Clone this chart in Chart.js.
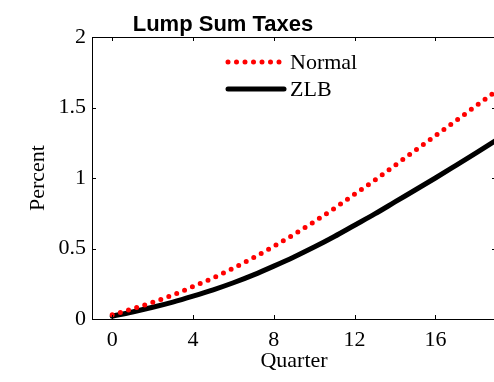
<!DOCTYPE html>
<html>
<head>
<meta charset="utf-8">
<script src="https://cdn.jsdelivr.net/npm/chart.js@4/dist/chart.umd.min.js"></script>
<style>
  html, body { margin: 0; padding: 0; background: #fff; }
  #wrap { width: 494px; height: 382px; overflow: hidden; }
</style>
</head>
<body>
<div id="wrap"><canvas id="chart" width="497" height="382"></canvas></div>
<script>
// 분기 (가로축)
const quarters = [0, 1, 2, 3, 4, 5, 6, 7, 8, 9, 10, 11, 12, 13, 14, 15, 16, 17, 18, 19];
// 그림에서 읽은 값 (퍼센트)
const normalValues = [0.03, 0.072, 0.118, 0.17, 0.23, 0.292, 0.36, 0.435, 0.515, 0.60,
                      0.69, 0.785, 0.885, 0.985, 1.09, 1.195, 1.30, 1.405, 1.51, 1.615];
const zlbValues = [0.02, 0.05, 0.083, 0.12, 0.162, 0.207, 0.257, 0.313, 0.375, 0.44,
                   0.51, 0.585, 0.665, 0.745, 0.83, 0.915, 1.0, 1.088, 1.177, 1.267];
const xTicks = [0, 4, 8, 12, 16];
const yTicks = [0, 0.5, 1, 1.5, 2];

const serif = '"Liberation Serif", "Times New Roman", serif';
const toPoints = vals => quarters.map((q, i) => ({ x: q, y: vals[i] }));

// 축 상자와 안쪽으로 향한 눈금을 그리는 플러그인
const boxPlugin = {
    id: 'box',
    afterDraw(chart) {
        const { ctx, chartArea: a, scales } = chart;
        ctx.save();
        ctx.strokeStyle = '#000';
        ctx.lineWidth = 1;
        ctx.strokeRect(a.left + 0.5, a.top + 0.5, a.right - a.left, a.bottom - a.top);
        const len = 4;
        ctx.beginPath();
        xTicks.forEach(v => {
            const x = Math.round(scales.x.getPixelForValue(v)) + 0.5;
            ctx.moveTo(x, a.bottom); ctx.lineTo(x, a.bottom - len);
            ctx.moveTo(x, a.top); ctx.lineTo(x, a.top + len);
        });
        yTicks.forEach(v => {
            const y = Math.round(scales.y.getPixelForValue(v)) + 0.5;
            ctx.moveTo(a.left, y); ctx.lineTo(a.left + len, y);
            ctx.moveTo(a.right, y); ctx.lineTo(a.right - len, y);
        });
        ctx.stroke();

        // 제목
        ctx.fillStyle = '#000';
        ctx.font = 'bold 22px "Liberation Sans", Arial, sans-serif';
        ctx.textAlign = 'center';
        ctx.textBaseline = 'alphabetic';
        ctx.fillText('Lump Sum Taxes', 223, 31);

        // 범례 (그래프 안쪽)
        const rows = [62, 89];
        chart.data.datasets.forEach((ds, i) => {
            const y = rows[i];
            ctx.beginPath();
            ctx.strokeStyle = ds.borderColor;
            ctx.lineWidth = ds.borderWidth;
            ctx.lineCap = ds.borderCapStyle || 'butt';
            ctx.setLineDash(ds.borderDash || []);
            ctx.moveTo(228, y); ctx.lineTo(284, y);
            ctx.stroke();
            ctx.setLineDash([]);
            ctx.fillStyle = '#000';
            ctx.font = '22px ' + serif;
            ctx.textAlign = 'left';
            ctx.textBaseline = 'middle';
            ctx.fillText(ds.label, 290, y + 1);
        });
        ctx.restore();
    }
};

new Chart(document.getElementById('chart'), {
    type: 'line',
    data: {
        datasets: [
            {
                label: 'Normal',
                data: toPoints(normalValues),
                borderColor: '#ff0000',
                borderWidth: 5,
                borderDash: [0, 8.5],
                borderCapStyle: 'round',
                borderJoinStyle: 'round',
                pointRadius: 0,
                cubicInterpolationMode: 'monotone',
                fill: false
            },
            {
                label: 'ZLB',
                data: toPoints(zlbValues),
                borderColor: '#000000',
                borderWidth: 5,
                borderCapStyle: 'round',
                borderJoinStyle: 'round',
                pointRadius: 0,
                cubicInterpolationMode: 'monotone',
                fill: false
            }
        ]
    },
    options: {
        responsive: false,
        animation: false,
        devicePixelRatio: 1,
        layout: { padding: { top: 37, right: 1, left: 0, bottom: 0 } },
        plugins: { legend: { display: false }, tooltip: { enabled: false }, title: { display: false } },
        scales: {
            x: {
                type: 'linear',
                min: -1,
                max: 19,
                afterBuildTicks: s => { s.ticks = xTicks.map(v => ({ value: v })); },
                afterFit: s => { s.height = 63; },
                border: { display: false },
                grid: { display: false, drawTicks: false },
                ticks: { color: '#000', font: { family: serif, size: 22 }, padding: 8, maxRotation: 0 },
                title: {
                    display: true, text: 'Quarter', color: '#000',
                    font: { family: serif, size: 22 }, padding: { top: 0, bottom: 8 }
                }
            },
            y: {
                min: 0,
                max: 2,
                afterBuildTicks: s => { s.ticks = yTicks.map(v => ({ value: v })); },
                afterFit: s => { s.width = 92; },
                border: { display: false },
                grid: { display: false, drawTicks: false },
                ticks: { color: '#000', font: { family: serif, size: 22 }, padding: 6, callback: v => String(v) },
                title: {
                    display: true, text: 'Percent', color: '#000',
                    font: { family: serif, size: 22 }, padding: { top: 25, bottom: 0 }
                }
            }
        }
    },
    plugins: [boxPlugin]
});
</script>
</body>
</html>
